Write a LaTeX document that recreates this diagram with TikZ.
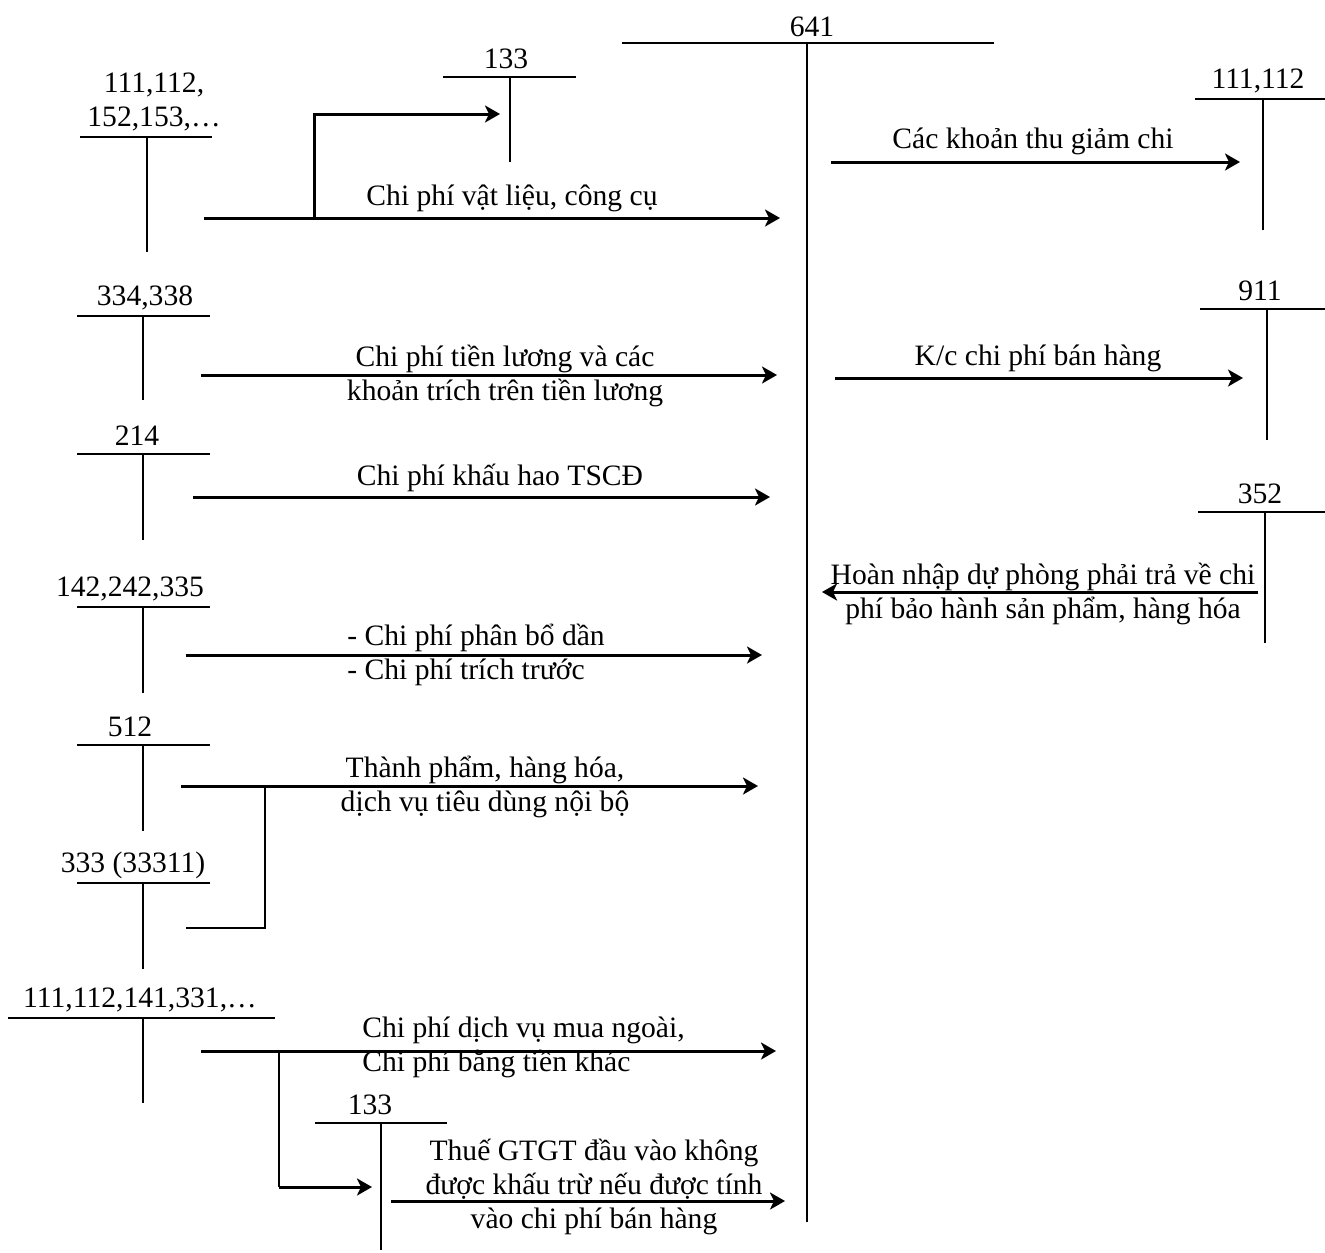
\documentclass[tikz,border=0pt]{standalone}
\usepackage{fontspec}
\setmainfont{Liberation Serif}
\usetikzlibrary{positioning,arrows.meta}

\begin{document}
\begin{tikzpicture}[x=0.5pt, y=-0.5pt]
	\tikzset{
		acct/.style={draw=black, line width=0.9pt},
		link/.style={draw=black, line width=1.2pt},
		flow/.style={draw=black, line width=1.5pt, -{Stealth[length=7.5pt, width=8.5pt, inset=2pt]}},
		lbl/.style={font=\fontsize{14.8}{17}\selectfont, inner sep=0pt, align=center}
	}
	\useasboundingbox (0,0) rectangle (1325,1252);
	
	% Account 641
	\node[lbl] (t641) at (812,27) {641};
	\draw[acct] (622,43) -- (994,43);
	\draw[acct] (807,43) -- (807,1222);
	
	% Debit side accounts
	\node[lbl] (t111a) at (154,102) {111,112,\\152,153,…};
	\draw[acct] (80,137) -- (212,137);
	\draw[acct] (147,137) -- (147,252);
	
	\node[lbl] (t133a) at (506,59) {133};
	\draw[acct] (443,77) -- (576,77);
	\draw[acct] (510,77) -- (510,162);
	
	\node[lbl] (t334) at (145,298) {334,338};
	\draw[acct] (77,316) -- (210,316);
	\draw[acct] (143,316) -- (143,400);
	
	\node[lbl] (t214) at (137,436) {214};
	\draw[acct] (77,454) -- (210,454);
	\draw[acct] (143,454) -- (143,540);
	
	\node[lbl] (t142) at (130,589) {142,242,335};
	\draw[acct] (77,607) -- (210,607);
	\draw[acct] (143,607) -- (143,693);
	
	\node[lbl] (t512) at (130,727) {512};
	\draw[acct] (77,745) -- (210,745);
	\draw[acct] (143,745) -- (143,831);
	
	\node[lbl] (t333) at (133,865) {333 (33311)};
	\draw[acct] (77,883) -- (210,883);
	\draw[acct] (143,883) -- (143,969);
	
	\node[lbl] (t111b) at (140,1000) {111,112,141,331,…};
	\draw[acct] (8,1018) -- (275,1018);
	\draw[acct] (143,1018) -- (143,1103);
	
	\node[lbl] (t133b) at (370,1105) {133};
	\draw[acct] (315,1123) -- (447,1123);
	\draw[acct] (381,1123) -- (381,1250);
	
	% Credit side accounts
	\node[lbl] (t111c) at (1258,81) {111,112};
	\draw[acct] (1195,99) -- (1325,99);
	\draw[acct] (1263,99) -- (1263,230);
	
	\node[lbl] (t911) at (1260,291) {911};
	\draw[acct] (1200,309) -- (1325,309);
	\draw[acct] (1267,309) -- (1267,440);
	
	\node[lbl] (t352) at (1260,494) {352};
	\draw[acct] (1198,512) -- (1325,512);
	\draw[acct] (1265,512) -- (1265,643);
	
	% Arrow ends
	\coordinate (s1) at (204,218);  \coordinate (e1) at (780,218);
	\coordinate (b1) at (314,218);  \coordinate (k1) at (314,114);  \coordinate (e1b) at (500,114);
	\coordinate (s2) at (831,162);  \coordinate (e2) at (1240,162);
	\coordinate (s3) at (201,375);  \coordinate (e3) at (777,375);
	\coordinate (s4) at (835,378);  \coordinate (e4) at (1243,378);
	\coordinate (s5) at (193,497);  \coordinate (e5) at (770,497);
	\coordinate (s6) at (1258,592); \coordinate (e6) at (822,592);
	\coordinate (s7) at (186,655);  \coordinate (e7) at (762,655);
	\coordinate (s8) at (181,786);  \coordinate (e8) at (758,786);
	\coordinate (b8) at (265,786);  \coordinate (k8) at (265,928);  \coordinate (s8b) at (186,928);
	\coordinate (s9) at (201,1051); \coordinate (e9) at (776,1051);
	\coordinate (b9) at (279,1051); \coordinate (k9) at (279,1187); \coordinate (e9b) at (372,1187);
	\coordinate (s10) at (391,1201); \coordinate (e10) at (785,1201);
	
	% Flows
	\draw[flow] (s1) -- (e1);
	\draw[flow] (b1) -- (k1) -- (e1b);
	\node[lbl] (f1) at (512,198) {Chi phí vật liệu, công cụ};
	
	\draw[flow] (s2) -- (e2);
	\node[lbl] (f2) at (1033,141) {Các khoản thu giảm chi};
	
	\draw[flow] (s3) -- (e3);
	\node[lbl] (f3) at (505,376) {Chi phí tiền lương và các\\khoản trích trên tiền lương};
	
	\draw[flow] (s4) -- (e4);
	\node[lbl] (f4) at (1038,358) {K/c chi phí bán hàng};
	
	\draw[flow] (s5) -- (e5);
	\node[lbl] (f5) at (500,478) {Chi phí khấu hao TSCĐ};
	
	\draw[flow] (s6) -- (e6);
	\node[lbl] (f6) at (1043,594) {Hoàn nhập dự phòng phải trả về chi\\phí bảo hành sản phẩm, hàng hóa};
	
	\draw[flow] (s7) -- (e7);
	\node[lbl, align=left, anchor=west] (f7) at (347,655) {- Chi phí phân bổ dần\\- Chi phí trích trước};
	
	\draw[flow] (s8) -- (e8);
	\draw[link] (b8) -- (k8) -- (s8b);
	\node[lbl] (f8) at (485,787) {Thành phẩm, hàng hóa,\\dịch vụ tiêu dùng nội bộ};
	
	\draw[flow] (s9) -- (e9);
	\draw[link] (b9) -- (k9);
	\draw[flow] (k9) -- (e9b);
	\node[lbl, align=left, anchor=west] (f9) at (362,1047) {Chi phí dịch vụ mua ngoài,\\Chi phí bằng tiền khác};
	
	\draw[flow] (s10) -- (e10);
	\node[lbl] (f10) at (594,1187) {Thuế GTGT đầu vào không\\được khấu trừ nếu được tính\\vào chi phí bán hàng};
\end{tikzpicture}
\end{document}
